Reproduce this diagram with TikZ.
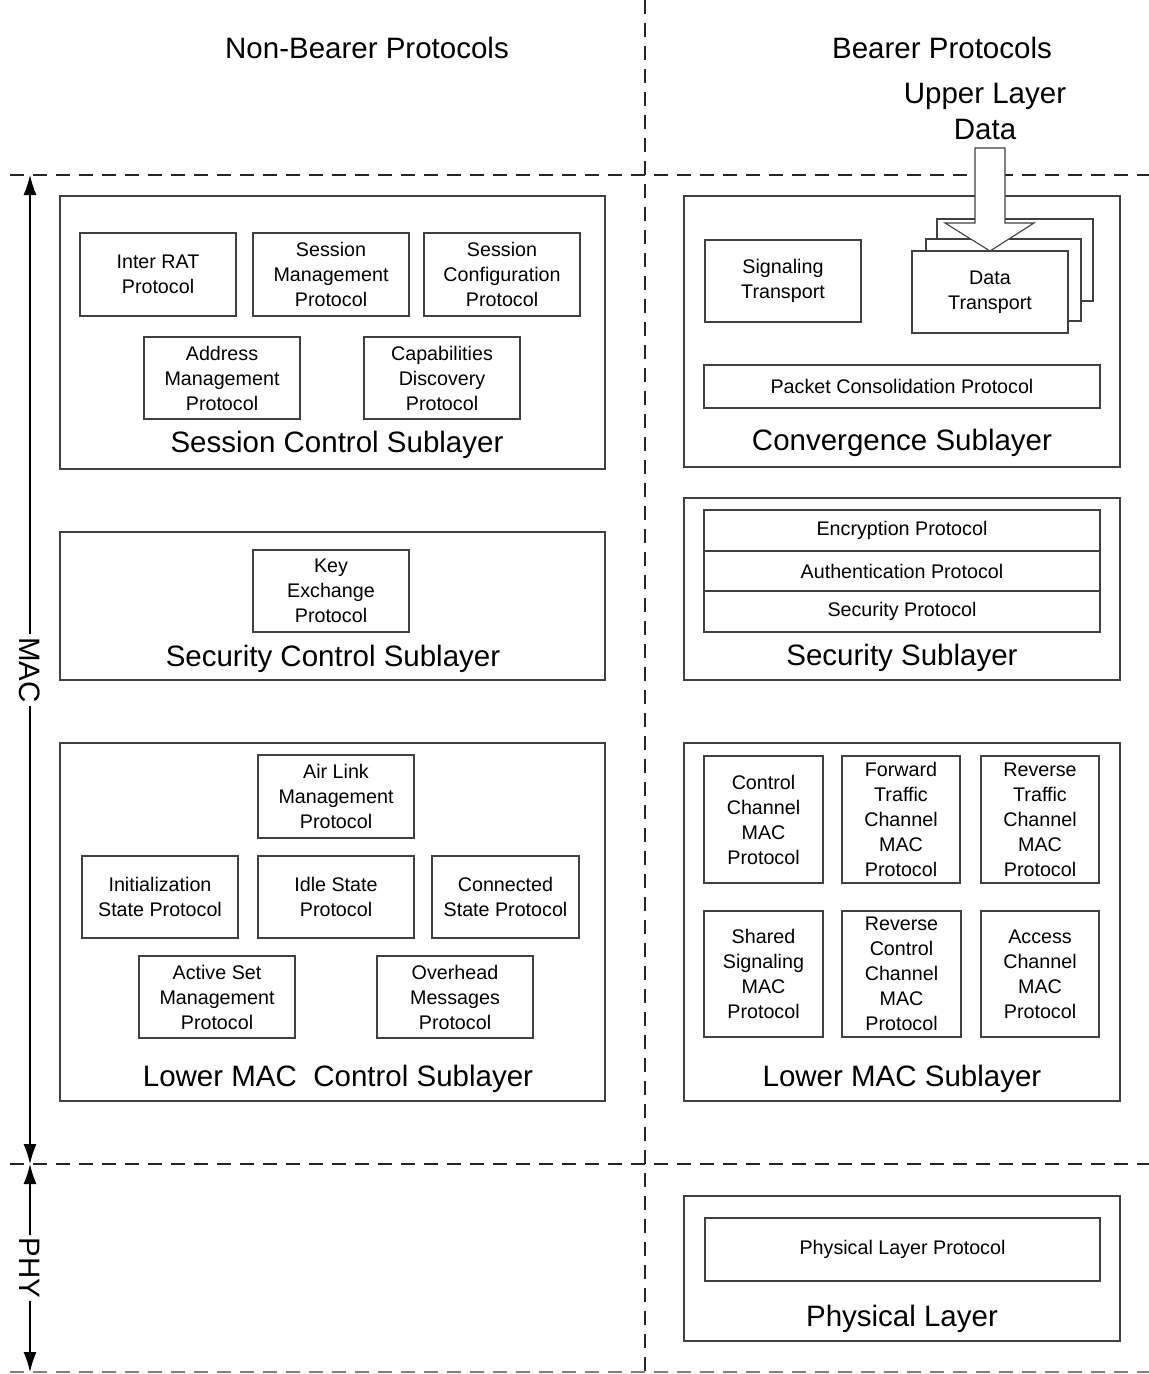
\documentclass[tikz,border=0pt]{standalone}
\usepackage{fontspec}
\setmainfont{Liberation Sans}
\usetikzlibrary{arrows.meta}
\tikzset{
  x=1pt,y=-1pt,
  box/.style={draw=black!75,line width=1.1pt,inner sep=0pt,outer sep=0pt,align=center,
    font=\fontsize{19.7}{25}\selectfont,fill=white},
  big/.style={inner sep=0pt,font=\fontsize{29.5}{36}\selectfont,align=center},
  sep/.style={draw=black!85,line width=1.1pt,dash pattern=on 14pt off 9pt},
  dim/.style={line width=1.3pt,{Latex[length=20pt,width=13pt]}-{Latex[length=20pt,width=13pt]}},
}
\begin{document}
\begin{tikzpicture}
\useasboundingbox (0,0) rectangle (1149,1374);
% separators
\draw[sep] (645,0) -- (645,1374);
\draw[sep] (10,175) -- (1149,175);
\draw[sep] (10,1164) -- (1149,1164);
\draw[sep,draw=black!50] (10,1372) -- (1149,1372);
% titles
\node[big] (tnb) at (367,48) {Non-Bearer Protocols};
\node[big] (tb) at (942,48) {Bearer Protocols};
\node[big] (uld) at (985,111) {Upper Layer\\Data};
% MAC / PHY
\coordinate (mtop) at (30,175);
\coordinate (mbot) at (30,1164);
\coordinate (pbot) at (30,1372);
\draw[dim] (mtop) -- (mbot);
\draw[dim] (mbot) -- (pbot);
\node[big,fill=white,rotate=-90,inner sep=3pt] (mac) at (30,670) {MAC};
\node[big,fill=white,rotate=-90,inner sep=3pt] (phy) at (30,1268) {PHY};
% ---------- left column ----------
\node[box,minimum width=545,minimum height=273] (scs) at (332.5,332.5) {};
\node[box,minimum width=156,minimum height=83] (irat) at (158,274.5) {Inter RAT\\Protocol};
\node[box,minimum width=156,minimum height=83] (smp) at (331,274.5) {Session\\Management\\Protocol};
\node[box,minimum width=156,minimum height=83] (scp) at (502,274.5) {Session\\Configuration\\Protocol};
\node[box,minimum width=156,minimum height=82] (amp) at (222,378) {Address\\Management\\Protocol};
\node[box,minimum width=156,minimum height=82] (cdp) at (442,378) {Capabilities\\Discovery\\Protocol};
\node[big] (scsl) at (337,445) {Session Control Sublayer};

\node[box,minimum width=545,minimum height=148] (secc) at (332.5,606) {};
\node[box,minimum width=156,minimum height=82] (kep) at (331,591) {Key\\Exchange\\Protocol};
\node[big] (seccl) at (333,659) {Security Control Sublayer};

\node[box,minimum width=545,minimum height=358] (lmc) at (332.5,922) {};
\node[box,minimum width=156,minimum height=83] (alm) at (336,796.5) {Air Link\\Management\\Protocol};
\node[box,minimum width=156,minimum height=82] (isp) at (160,897) {Initialization\\State Protocol};
\node[box,minimum width=156,minimum height=82] (idl) at (336,897) {Idle State\\Protocol};
\node[box,minimum width=147,minimum height=82] (csp) at (505.5,897) {Connected\\State Protocol};
\node[box,minimum width=156,minimum height=82] (asm) at (217,997) {Active Set\\Management\\Protocol};
\node[box,minimum width=156,minimum height=82] (ohm) at (455,997) {Overhead\\Messages\\Protocol};
\node[big] (lmcl) at (338,1079) {Lower MAC\ \ Control Sublayer};
% ---------- right column ----------
\node[box,minimum width=436,minimum height=271] (conv) at (902,331.5) {};
\node[box,minimum width=156,minimum height=82] (sig) at (783,281) {Signaling\\Transport};
\node[box,minimum width=156,minimum height=82] (dt3) at (1015,260) {};
\node[box,minimum width=155,minimum height=82] (dt2) at (1003.5,280) {};
\node[box,minimum width=156,minimum height=82] (dt1) at (990,292) {Data\\Transport};
\draw[draw=black!75,line width=1.1pt,fill=white,line join=miter]
  (975,148) -- (1005,148) -- (1005,223) -- (1034,223) -- (990,251) -- (945,223) -- (975,223) -- cycle;
\node[box,minimum width=396,minimum height=43] (pcp) at (902,386.5) {Packet Consolidation Protocol};
\node[big] (convl) at (902,443) {Convergence Sublayer};

\node[box,minimum width=436,minimum height=182] (sec) at (902,589) {};
\node[box,minimum width=396,minimum height=41] (enc) at (902,530.5) {Encryption Protocol};
\node[box,minimum width=396,minimum height=40] (auth) at (902,571) {Authentication Protocol};
\node[box,minimum width=396,minimum height=41] (secp) at (902,611.5) {Security Protocol};
\node[big] (secl) at (902,658) {Security Sublayer};

\node[box,minimum width=436,minimum height=358] (lm) at (902,922) {};
\node[box,minimum width=119,minimum height=127] (ccm) at (763.5,819.5) {Control\\Channel\\MAC\\Protocol};
\node[box,minimum width=118,minimum height=127] (ftc) at (901,819.5) {Forward\\Traffic\\Channel\\MAC\\Protocol};
\node[box,minimum width=118,minimum height=127] (rtc) at (1040,819.5) {Reverse\\Traffic\\Channel\\MAC\\Protocol};
\node[box,minimum width=119,minimum height=126] (ssm) at (763.5,974) {Shared\\Signaling\\MAC\\Protocol};
\node[box,minimum width=119,minimum height=126] (rcc) at (901.5,974) {Reverse\\Control\\Channel\\MAC\\Protocol};
\node[box,minimum width=118,minimum height=126] (acm) at (1040,974) {Access\\Channel\\MAC\\Protocol};
\node[big] (lml) at (902,1079) {Lower MAC Sublayer};

\node[box,minimum width=436,minimum height=145] (phl) at (902,1268.5) {};
\node[box,minimum width=395,minimum height=63] (plp) at (902.5,1249.5) {Physical Layer Protocol};
\node[big] (phll) at (902,1319) {Physical Layer};
\end{tikzpicture}
\end{document}
